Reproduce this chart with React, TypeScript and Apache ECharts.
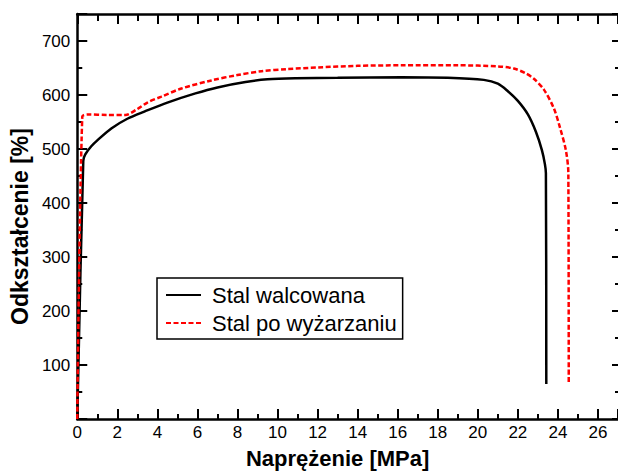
import React, { useEffect, useRef } from "react";
import * as echarts from "echarts";

const seriesNames = ["Stal walcowana", "Stal po wyżarzaniu"];

const rolledSteel: [number, number][] = [
  [0, 0], [0.3, 478], [0.4, 490], [0.7, 505], [1, 516], [1.7, 538], [2.5, 556],
  [3.4, 570], [4.5, 586], [5.9, 603], [7, 614], [8.4, 624], [9.5, 629], [10.9, 631],
  [13, 632], [16.2, 633], [18.5, 632], [20.3, 628], [21, 621], [21.5, 607], [22, 589],
  [22.5, 564], [22.9, 532], [23.2, 498], [23.35, 472], [23.4, 455], [23.42, 65],
];

const annealedSteel: [number, number][] = [
  [0, 0], [0.25, 560], [0.5, 564], [1.5, 563], [2.4, 563], [3, 574], [3.5, 586],
  [4.2, 597], [5.2, 612], [6.7, 627], [8, 637], [9.2, 644], [10.5, 648], [12, 651],
  [14, 654], [16.2, 655], [19, 655], [21, 653], [21.8, 649], [22.4, 640], [22.8, 630],
  [23.3, 610], [23.8, 575], [24.1, 540], [24.4, 497], [24.52, 455], [24.54, 65],
];

const xName = "Naprężenie [MPa]";
const yName = "Odkształcenie [%]";

const FONT = "'Liberation Sans', Arial, Helvetica, sans-serif";

export default function App() {
  const ref = useRef<HTMLDivElement>(null);
  useEffect(() => {
    if (!ref.current) return;
    const chart = echarts.init(ref.current, null, { renderer: "svg" });
    const axisLine = { show: true, onZero: false, lineStyle: { color: "#000", width: 2.5 } };
    chart.setOption({
      animation: false,
      backgroundColor: "#fff",
      textStyle: { fontFamily: FONT },
      grid: { left: 75, right: 0, top: 14, bottom: 49 },
      legend: {
        orient: "vertical",
        left: 157,
        top: 278,
        padding: [6, 6, 5, 8],
        itemWidth: 35,
        itemHeight: 14,
        itemGap: 6,
        borderColor: "#000",
        borderWidth: 1.5,
        itemStyle: { opacity: 0 },
        textStyle: { fontFamily: FONT, fontSize: 22, color: "#000", padding: [0, 0, 0, 6] },
        data: seriesNames,
      },
      xAxis: [
        {
          type: "value",
          position: "bottom",
          min: 0,
          max: 27,
          interval: 2,
          name: xName,
          nameLocation: "middle",
          nameGap: 28,
          nameTextStyle: { fontFamily: FONT, fontSize: 22, fontWeight: "bold", color: "#000", padding: [0, 20, 0, 0] },
          axisLine,
          axisTick: { show: true, inside: true, length: 10, lineStyle: { color: "#000", width: 2 } },
          minorTick: { show: true, splitNumber: 2, length: 5, lineStyle: { color: "#000", width: 2 } },
          axisLabel: { fontFamily: FONT, fontSize: 17, color: "#000", margin: 5, showMaxLabel: false },
          splitLine: { show: false },
        },
        {
          type: "value",
          position: "top",
          min: 0,
          max: 27,
          interval: 2,
          axisLine,
          axisTick: { show: true, inside: true, length: 10, lineStyle: { color: "#000", width: 2 } },
          minorTick: { show: true, splitNumber: 2, length: 7, lineStyle: { color: "#000", width: 2 } },
          axisLabel: { show: false },
          splitLine: { show: false },
        },
      ],
      yAxis: [
        {
          type: "value",
          position: "left",
          min: 0,
          max: 750,
          interval: 100,
          name: yName,
          nameLocation: "middle",
          nameGap: 43,
          nameRotate: 90,
          nameTextStyle: { fontFamily: FONT, fontSize: 23, fontWeight: "bold", color: "#000", padding: [0, 20, 0, 0] },
          axisLine,
          axisTick: { show: true, inside: true, length: 10, lineStyle: { color: "#000", width: 2 } },
          minorTick: { show: true, splitNumber: 2, length: 5, lineStyle: { color: "#000", width: 2 } },
          axisLabel: { fontFamily: FONT, fontSize: 17, color: "#000", margin: 7, showMinLabel: false, showMaxLabel: false },
          splitLine: { show: false },
        },
        {
          type: "value",
          position: "right",
          min: 0,
          max: 750,
          interval: 100,
          axisLine: { show: false, onZero: false },
          axisTick: { show: true, inside: true, length: 6, lineStyle: { color: "#000", width: 2 } },
          minorTick: { show: true, splitNumber: 2, length: 3, lineStyle: { color: "#000", width: 2 } },
          axisLabel: { show: false },
          splitLine: { show: false },
        },
      ],
      series: [
        {
          name: seriesNames[0],
          type: "line",
          xAxisIndex: 0,
          yAxisIndex: 0,
          data: rolledSteel,
          symbol: "none",
          smooth: 0.3,
          lineStyle: { color: "#000", width: 2.5 },
          itemStyle: { color: "#000" },
        },
        {
          name: seriesNames[1],
          type: "line",
          xAxisIndex: 0,
          yAxisIndex: 0,
          data: annealedSteel,
          symbol: "none",
          smooth: 0.3,
          lineStyle: { color: "#ff0000", width: 2.5, type: [5, 2.5] },
          itemStyle: { color: "#ff0000" },
        },
      ],
    });
    return () => chart.dispose();
  }, []);
  return <div ref={ref} style={{ width: 618, height: 474, position: "fixed", left: 0, top: 0 }} />;
}
